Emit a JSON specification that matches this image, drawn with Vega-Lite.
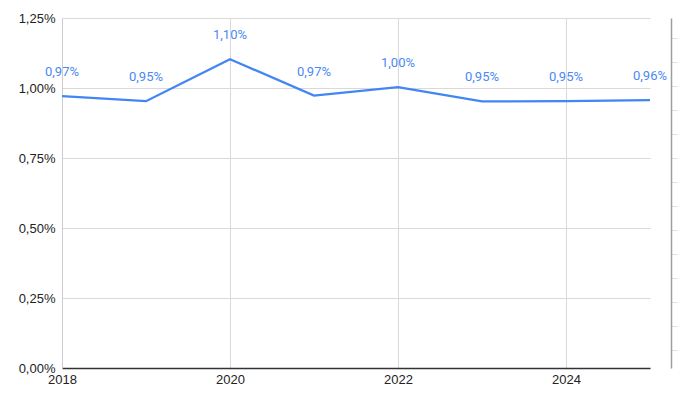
{
  "$schema": "https://vega.github.io/schema/vega-lite/v6.json",
  "width": 588,
  "height": 350,
  "autosize": {"type": "none"},
  "padding": {"left": 62, "top": 18, "right": 28, "bottom": 30},
  "background": "white",
  "config": {
    "locale": {"number": {"decimal": ",", "thousands": ".", "grouping": [3], "currency": ["", " €"]}},
    "view": {"stroke": null},
    "axis": {"labelFont": "Liberation Sans", "labelFontSize": 13, "labelColor": "#222222", "gridColor": "#d9d9d9", "gridWidth": 1, "ticks": false, "title": null}
  },
  "data": {"values": [
    {"year": 2018, "rate": 0.00971},
    {"year": 2019, "rate": 0.00953},
    {"year": 2020, "rate": 0.01103},
    {"year": 2021, "rate": 0.00973},
    {"year": 2022, "rate": 0.01003},
    {"year": 2023, "rate": 0.00952},
    {"year": 2024, "rate": 0.00953},
    {"year": 2025, "rate": 0.00957}
  ]},
  "encoding": {
    "x": {
      "field": "year", "type": "quantitative",
      "scale": {"domain": [2018, 2025], "nice": false, "zero": false},
      "axis": {"values": [2018, 2020, 2022, 2024], "format": "d", "labelPadding": 5, "domainColor": "#333333", "domainWidth": 1.5, "labelFlush": false}
    }
  },
  "layer": [
    {
      "encoding": {
        "y": {
          "field": "rate", "type": "quantitative",
          "scale": {"domain": [0, 0.0125], "nice": false},
          "axis": {"values": [0, 0.0025, 0.005, 0.0075, 0.01, 0.0125], "format": ".2%", "labelPadding": 7, "domainColor": "#cccccc"}
        }
      },
      "layer": [
        {"mark": {"type": "line", "color": "#4285f4", "strokeWidth": 2.3}},
        {"mark": {"type": "text", "color": "#4a8af4", "font": "Roboto", "fontSize": 13, "dy": -24, "baseline": "middle", "align": "center"},
         "encoding": {"text": {"field": "rate", "type": "quantitative", "format": ".2%"}}}
      ]
    },
    {
      "mark": {"type": "point", "opacity": 0},
      "encoding": {
        "y": {
          "field": "rate", "type": "quantitative",
          "scale": {"domain": [350, 0], "nice": false, "zero": false},
          "axis": {"orient": "right", "offset": 21, "values": [20, 44, 68, 92, 116, 140, 164, 188, 212, 236, 260, 284, 308, 332], "labels": false, "ticks": true, "tickSize": 6, "tickColor": "#e0e0e0", "domainColor": "#9e9e9e", "domainWidth": 1.5, "grid": false}
        }
      }
    }
  ],
  "resolve": {"scale": {"y": "independent"}, "axis": {"y": "independent"}}
}
